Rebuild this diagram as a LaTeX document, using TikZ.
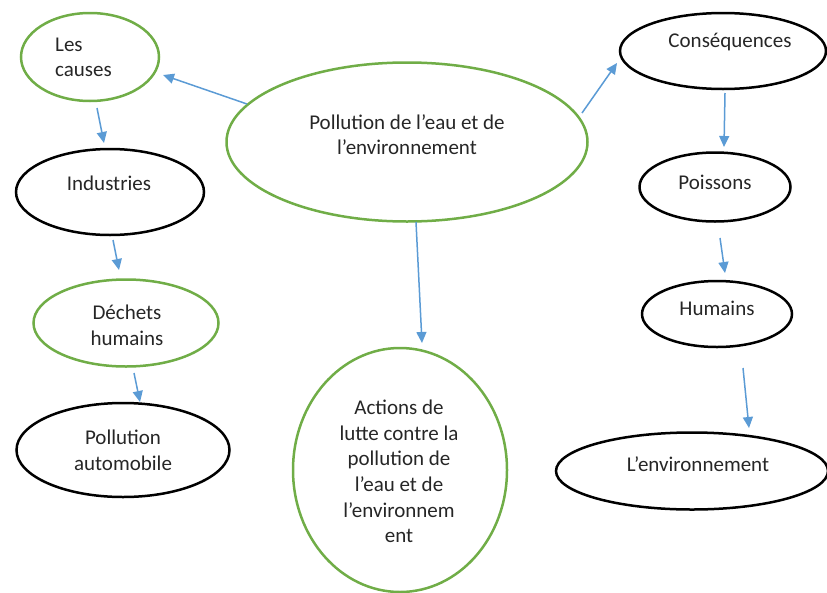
\documentclass[tikz,border=0pt]{standalone}
\usepackage{fontspec}
\setmainfont{Carlito}
\usetikzlibrary{shapes.geometric,arrows.meta}
\definecolor{egreen}{HTML}{70AD47}
\definecolor{eblue}{HTML}{5B9BD5}
\definecolor{etext}{HTML}{262626}
\tikzset{
  ell/.style={ellipse, draw, line width=2.5pt, inner sep=0pt},
  gell/.style={ell, draw=egreen},
  bell/.style={ell, draw=black},
  txt/.style={text=etext, font=\fontsize{21}{25.6}\selectfont, align=center, inner sep=0pt},
  arr/.style={draw=eblue, line width=1.5pt, -{Triangle[length=11pt,width=10pt]}}
}
\begin{document}
\begin{tikzpicture}[x=1pt,y=-1pt]
\useasboundingbox (0,0) rectangle (827,592);
\begin{scope}
\clip (0,0) rectangle (827,592);
% ellipses
\node[gell, minimum width=138, minimum height=88] (causes) at (90,57) {};
\node[gell, minimum width=361, minimum height=159] (central) at (407,142) {};
\node[bell, minimum width=206, minimum height=76] (cons) at (723,51) {};
\node[bell, minimum width=188, minimum height=86] (indus) at (110,192) {};
\node[gell, minimum width=185, minimum height=87] (dechets) at (126,323) {};
\node[bell, minimum width=213, minimum height=94] (auto) at (123,450) {};
\node[gell, minimum width=214, minimum height=244] (actions) at (400,470) {};
\node[bell, minimum width=151, minimum height=69] (poissons) at (715,187) {};
\node[bell, minimum width=150, minimum height=66] (humains) at (717,314) {};
\node[bell, minimum width=272, minimum height=77] (env) at (692,471) {};
\end{scope}
% texts
\node[txt, anchor=west, align=left] (tcauses) at (55,57.5) {Les\\causes};
\node[txt] (tcentral) at (407,134.5) {Pollution de l’eau et de\\l’environnement};
\node[txt] (tcons) at (730,42) {Conséquences};
\node[txt] (tindus) at (109,183) {Industries};
\node[txt] (tdechets) at (127,325.5) {Déchets\\humains};
\node[txt] (tauto) at (123,450.5) {Pollution\\automobile};
\node[txt] (tactions) at (399,471.5) {Actions de\\lutte contre la\\pollution de\\l’eau et de\\l’environnem\\ent};
\node[txt] (tpoissons) at (715,182) {Poissons};
\node[txt] (thumains) at (717,308) {Humains};
\node[txt] (tenv) at (698,464) {L’environnement};
% arrows
\draw[arr] ([shift={(-160,-38)}]central.center) -- ([shift={(73,18)}]causes.center);
\draw[arr] ([shift={(7,51)}]causes.center) -- ([shift={(-6,-49)}]indus.center);
\draw[arr] ([shift={(3,48)}]indus.center) -- ([shift={(-7,-53)}]dechets.center);
\draw[arr] ([shift={(8,50)}]dechets.center) -- ([shift={(17,-48)}]auto.center);
\draw[arr] ([shift={(9,80)}]central.center) -- ([shift={(22,-127)}]actions.center);
\draw[arr] ([shift={(175,-29)}]central.center) -- ([shift={(-106,12)}]cons.center);
\draw[arr] ([shift={(2,42)}]cons.center) -- ([shift={(9,-40)}]poissons.center);
\draw[arr] ([shift={(5,51)}]poissons.center) -- ([shift={(8,-41)}]humains.center);
\draw[arr] ([shift={(26,54)}]humains.center) -- ([shift={(57,-43)}]env.center);
\end{tikzpicture}
\end{document}
